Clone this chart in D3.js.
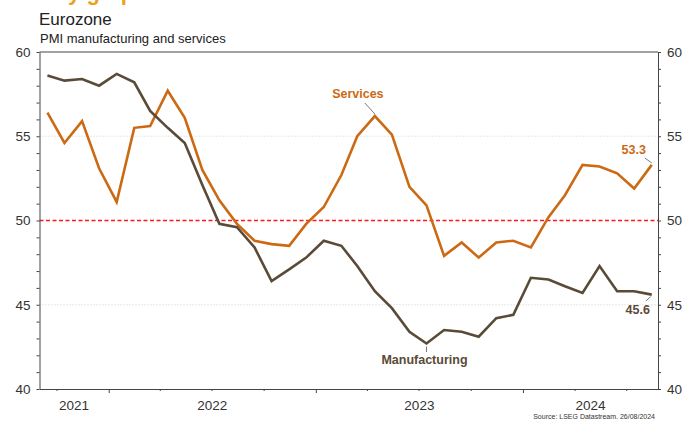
<!DOCTYPE html>
<html>
<head>
<meta charset="utf-8">
<script src="https://cdn.jsdelivr.net/npm/d3@7"></script>
<style>
  body { margin: 0; background: #fff; }
  svg { display: block; font-family: "Liberation Sans", Arial, sans-serif; }
</style>
</head>
<body>
<div id="chart"></div>
<script>
// monthly PMI readings, plotted mid-month
const months = ["2021-09", "2021-10", "2021-11", "2021-12",
    "2022-01", "2022-02", "2022-03", "2022-04", "2022-05", "2022-06",
    "2022-07", "2022-08", "2022-09", "2022-10", "2022-11", "2022-12",
    "2023-01", "2023-02", "2023-03", "2023-04", "2023-05", "2023-06",
    "2023-07", "2023-08", "2023-09", "2023-10", "2023-11", "2023-12",
    "2024-01", "2024-02", "2024-03", "2024-04", "2024-05", "2024-06",
    "2024-07", "2024-08"];
const manufacturing = [58.6, 58.3, 58.4, 58.0, 58.7, 58.2, 56.5, 55.5, 54.6, 52.1,
    49.8, 49.6, 48.4, 46.4, 47.1, 47.8, 48.8, 48.5, 47.3, 45.8, 44.8, 43.4,
    42.7, 43.5, 43.4, 43.1, 44.2, 44.4, 46.6, 46.5, 46.1, 45.7, 47.3, 45.8,
    45.8, 45.6];
const services = [56.4, 54.6, 55.9, 53.1, 51.1, 55.5, 55.6, 57.7, 56.1, 53.0,
    51.2, 49.8, 48.8, 48.6, 48.5, 49.8, 50.8, 52.7, 55.0, 56.2, 55.1, 52.0,
    50.9, 47.9, 48.7, 47.8, 48.7, 48.8, 48.4, 50.2, 51.5, 53.3, 53.2, 52.8,
    51.9, 53.3];
const yearLabels = ["2021", "2022", "2023", "2024"];
const yTicks = [40, 45, 50, 55, 60];

const W = 686, H = 421;
const margin = { top: 52, right: 28, bottom: 32, left: 39.5 };

const parseMonth = d3.timeParse("%Y-%m");
const dates = months.map(m => d3.timeDay.offset(parseMonth(m), 14));

const x = d3.scaleTime()
    .domain([new Date(2021, 8, 1), new Date(2024, 7, 26)])
    .range([margin.left, W - margin.right]);
const y = d3.scaleLinear()
    .domain([40, 60])
    .range([H - margin.bottom, margin.top]);

const svg = d3.select("#chart").append("svg")
    .attr("width", W)
    .attr("height", H);

// heading cut off by the top edge, as in the source image
svg.append("text")
    .attr("x", 40).attr("y", 0)
    .attr("fill", "#e8a31d")
    .attr("font-size", 22).attr("font-weight", "bold")
    .text("Key graphs");

// title
svg.append("text")
    .attr("x", 39).attr("y", 25)
    .attr("font-size", 17).attr("fill", "#222")
    .text("Eurozone");
svg.append("text")
    .attr("x", 40).attr("y", 43)
    .attr("font-size", 13).attr("fill", "#222")
    .text("PMI manufacturing and services");

// gridlines at 45 and 55
svg.append("g")
    .selectAll("line")
    .data([45, 55])
    .join("line")
    .attr("x1", x.range()[0]).attr("x2", x.range()[1])
    .attr("y1", d => y(d)).attr("y2", d => y(d))
    .attr("stroke", "#c8c8c8")
    .attr("stroke-width", 0.8)
    .attr("stroke-dasharray", "1,2");

// 50 line
svg.append("line")
    .attr("x1", x.range()[0]).attr("x2", x.range()[1])
    .attr("y1", y(50)).attr("y2", y(50))
    .attr("stroke", "#ff1a1a")
    .attr("stroke-width", 1.3)
    .attr("stroke-dasharray", "4,2.5");

// top frame line
svg.append("line")
    .attr("x1", x.range()[0]).attr("x2", x.range()[1])
    .attr("y1", y(60)).attr("y2", y(60))
    .attr("stroke", "#444").attr("stroke-width", 1);

// y axes
const yMinor = d3.range(40, 61, 1);
function styleAxis(g) {
    g.select(".domain").attr("stroke", "#444");
    g.selectAll(".tick line").attr("stroke", "#444");
    g.selectAll(".tick text").attr("font-size", 13.5).attr("fill", "#333")
        .attr("font-family", "Liberation Sans, Arial, sans-serif");
}
const leftAxis = svg.append("g")
    .attr("transform", "translate(" + x.range()[0] + ",0)")
    .call(d3.axisLeft(y).tickValues(yMinor).tickSize(3).tickSizeOuter(0)
        .tickFormat(d => yTicks.includes(d) ? d : ""))
    .call(styleAxis);
leftAxis.selectAll(".tick text").attr("x", -9);

const rightAxis = svg.append("g")
    .attr("transform", "translate(" + x.range()[1] + ",0)")
    .call(d3.axisRight(y).tickValues(yMinor).tickSize(3).tickSizeOuter(0)
        .tickFormat(d => yTicks.includes(d) ? d : ""))
    .call(styleAxis);
rightAxis.selectAll(".tick text").attr("x", 9);

// x axis: quarterly ticks, longer at year start
const quarters = d3.timeMonth.every(3).range(new Date(2021, 9, 1), new Date(2024, 7, 26));
const xAxis = svg.append("g")
    .attr("transform", "translate(0," + y(40) + ")")
    .call(d3.axisBottom(x).tickValues(quarters).tickSize(2).tickSizeOuter(0)
        .tickFormat(""))
    .call(styleAxis);
xAxis.selectAll(".tick line")
    .attr("y2", d => d.getMonth() === 0 ? 4 : 2);

// year labels centred in each year's visible span
const dom = x.domain();
svg.append("g")
    .selectAll("text")
    .data(yearLabels)
    .join("text")
    .attr("x", d => {
        const a = d3.max([new Date(+d, 0, 1), dom[0]]);
        const b = d3.min([new Date(+d + 1, 0, 1), dom[1]]);
        return (x(a) + x(b)) / 2;
    })
    .attr("y", 410)
    .attr("text-anchor", "middle")
    .attr("font-size", 13.5).attr("fill", "#333")
    .text(d => d);

// lines
const line = vals => d3.line()
    .x((d, i) => x(dates[i]))
    .y(d => y(d))(vals);

svg.append("path")
    .attr("d", line(services))
    .attr("fill", "none")
    .attr("stroke", "#cc6a14")
    .attr("stroke-width", 2.6)
    .attr("stroke-linejoin", "miter");
svg.append("path")
    .attr("d", line(manufacturing))
    .attr("fill", "none")
    .attr("stroke", "#5a4a38")
    .attr("stroke-width", 2.6)
    .attr("stroke-linejoin", "miter");

// annotations
const last = months.length - 1;
const peak = 19; // Apr 2023 services peak
const low = 22;  // Jul 2023 manufacturing low
const notes = [
    { text: "Services", color: "#cc6a14", tx: x(dates[peak]) - 17, ty: 98,
      x1: x(dates[peak]) - 10, y1: 103, x2: x(dates[peak]), y2: y(services[peak]) - 2 },
    { text: "Manufacturing", color: "#5a4a38", tx: x(dates[low]) - 2, ty: 364,
      x1: x(dates[low]), y1: 352, x2: x(dates[low]), y2: y(manufacturing[low]) + 3 },
    { text: d3.format(".1f")(services[last]), color: "#cc6a14", tx: x(dates[last]) - 18, ty: 154,
      x1: x(dates[last]) - 7, y1: 158, x2: x(dates[last]), y2: y(services[last]) - 2 },
    { text: d3.format(".1f")(manufacturing[last]), color: "#5a4a38", tx: x(dates[last]) - 14, ty: 314,
      x1: x(dates[last]) - 6, y1: 301, x2: x(dates[last]) - 1, y2: y(manufacturing[last]) + 2 }
];
const ann = svg.append("g").selectAll("g").data(notes).join("g");
ann.append("line")
    .attr("x1", d => d.x1).attr("y1", d => d.y1)
    .attr("x2", d => d.x2).attr("y2", d => d.y2)
    .attr("stroke", "#555").attr("stroke-width", 0.8);
ann.append("text")
    .attr("x", d => d.tx).attr("y", d => d.ty)
    .attr("text-anchor", "middle")
    .attr("font-size", 12.5).attr("font-weight", "bold")
    .attr("fill", d => d.color)
    .text(d => d.text);

// source
svg.append("text")
    .attr("x", 655).attr("y", 419)
    .attr("text-anchor", "end")
    .attr("font-size", 7).attr("fill", "#333")
    .text("Source: LSEG Datastream. 26/08/2024");
</script>
</body>
</html>
